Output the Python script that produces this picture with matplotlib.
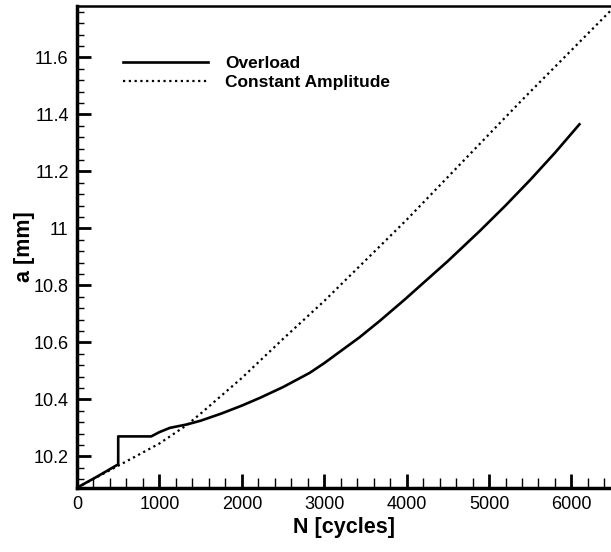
import matplotlib
import matplotlib.pyplot as plt
from matplotlib.ticker import MultipleLocator

matplotlib.use("Agg")

overload_n = [0, 250, 500, 500, 700, 900, 1000, 1127, 1333, 1500, 1750, 2000, 2218,
              2500, 2824, 3000, 3430, 3673, 3976, 4500, 4885, 5200, 5500, 5800, 6097]
overload_a = [10.09, 10.13, 10.172, 10.27, 10.27, 10.27, 10.285, 10.30, 10.312, 10.325,
              10.35, 10.378, 10.405, 10.443, 10.493, 10.527, 10.618, 10.675, 10.75, 10.885,
              10.99, 11.08, 11.17, 11.265, 11.365]

const_n = [0, 500, 1000, 1333, 1500, 2000, 2500, 3000, 3650, 4000, 4500, 5000, 5400,
           6000, 6480]
const_a = [10.09, 10.167, 10.245, 10.31, 10.35, 10.475, 10.612, 10.745, 10.93, 11.03,
           11.18, 11.33, 11.45, 11.625, 11.765]

xticks = [0, 1000, 2000, 3000, 4000, 5000, 6000]
yticks = [10.2, 10.4, 10.6, 10.8, 11, 11.2, 11.4, 11.6]
ytick_labels = ["10.2", "10.4", "10.6", "10.8", "11", "11.2", "11.4", "11.6"]

plt.rcParams["font.family"] = ["Liberation Sans", "DejaVu Sans"]

fig = plt.figure(figsize=(6.11, 5.52), dpi=100)
ax = fig.add_axes([77 / 611, 64 / 552, 1 - 77 / 611, (488 - 6) / 552])

ax.plot(overload_n, overload_a, color="black", lw=1.9, label="Overload")
ax.plot(const_n, const_a, color="black", lw=1.6, linestyle=(0, (1, 1.6)),
        label="Constant Amplitude")

ax.set_xlim(0, 6480)
ax.set_ylim(10.089, 11.78)
ax.set_xticks(xticks)
ax.set_yticks(yticks)
ax.set_yticklabels(ytick_labels)
ax.xaxis.set_minor_locator(MultipleLocator(200))
ax.yaxis.set_minor_locator(MultipleLocator(0.04))

ax.tick_params(which="major", direction="in", length=10, width=2, labelsize=13, pad=6)
ax.tick_params(which="minor", direction="in", length=5, width=1)
ax.tick_params(axis="x", which="minor", length=7)

ax.spines["right"].set_visible(False)
ax.spines["left"].set_linewidth(2.5)
ax.spines["bottom"].set_linewidth(2.5)
ax.spines["top"].set_linewidth(1.8)

ax.set_xlabel("N [cycles]", fontsize=15.5, fontweight="bold", labelpad=3)
ax.set_ylabel("a [mm]", fontsize=15.5, fontweight="bold", labelpad=-1)

ax.legend(loc="upper left", bbox_to_anchor=(0.057, 0.929), frameon=False,
          handlelength=4.9, handletextpad=1.0, labelspacing=0.25,
          prop={"size": 12.5, "weight": "bold"})

fig.savefig("out.png", dpi=100)
